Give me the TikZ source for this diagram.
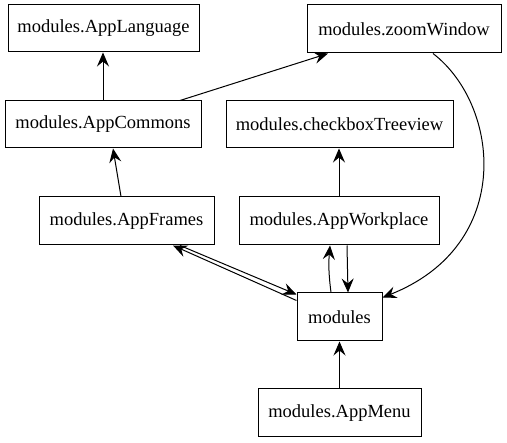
\documentclass[tikz,border=0pt]{standalone}
\usepackage{fontspec}
\setmainfont{Liberation Serif}
\usetikzlibrary{arrows.meta}
\begin{document}
\begin{tikzpicture}[x=1pt,y=-1pt,
  box/.style={draw,line width=1pt,rectangle,inner sep=0pt,font=\fontsize{18.5}{21}\selectfont},
  arr/.style={line width=1pt,-{Stealth[length=14pt,width=12pt,inset=5pt]}}]
\useasboundingbox (0,0) rectangle (507,443);
\node[box,minimum width=191pt,minimum height=47pt] (lang) at (103.5,28.5) {modules.AppLanguage};
\node[box,minimum width=194pt,minimum height=48pt] (zoom) at (404,29) {modules.zoomWindow};
\node[box,minimum width=196pt,minimum height=47pt] (commons) at (103,124.5) {modules.AppCommons};
\node[box,minimum width=227pt,minimum height=47pt] (check) at (339.5,124.5) {modules.checkboxTreeview};
\node[box,minimum width=175pt,minimum height=48pt] (frames) at (126.5,221) {modules.AppFrames};
\node[box,minimum width=200pt,minimum height=48pt] (work) at (339,221) {modules.AppWorkplace};
\node[box,minimum width=85pt,minimum height=48pt] (mod) at (339.5,317) {modules};
\node[box,minimum width=163pt,minimum height=48pt] (menu) at (339.5,413) {modules.AppMenu};
\draw[arr] (commons.north) -- (commons.north |- lang.south);
\draw[arr] ([xshift=77pt]commons.north) -- ([xshift=-76pt]zoom.south);
\draw[arr] ([xshift=-5.5pt]frames.north) -- ([xshift=10pt]commons.south);
\draw[arr] (work.north) -- (work.north |- check.south);
\draw[arr] ([xshift=29pt]zoom.south) .. controls (500,105) and (515,245) .. ([yshift=-5pt]mod.north east);
\draw[arr] ([xshift=53.5pt]frames.south) -- ([yshift=-2pt]mod.north west);
\draw[arr] ([yshift=-8pt]mod.north west) -- ([xshift=46.5pt]frames.south);
\draw[arr] ([xshift=-8.5pt]mod.north) to[bend left=6] ([xshift=-9pt]work.south);
\draw[arr] ([xshift=8pt]work.south) -- ([xshift=8.5pt]mod.north);
\draw[arr] (menu.north) -- (mod.south);
\end{tikzpicture}
\end{document}
